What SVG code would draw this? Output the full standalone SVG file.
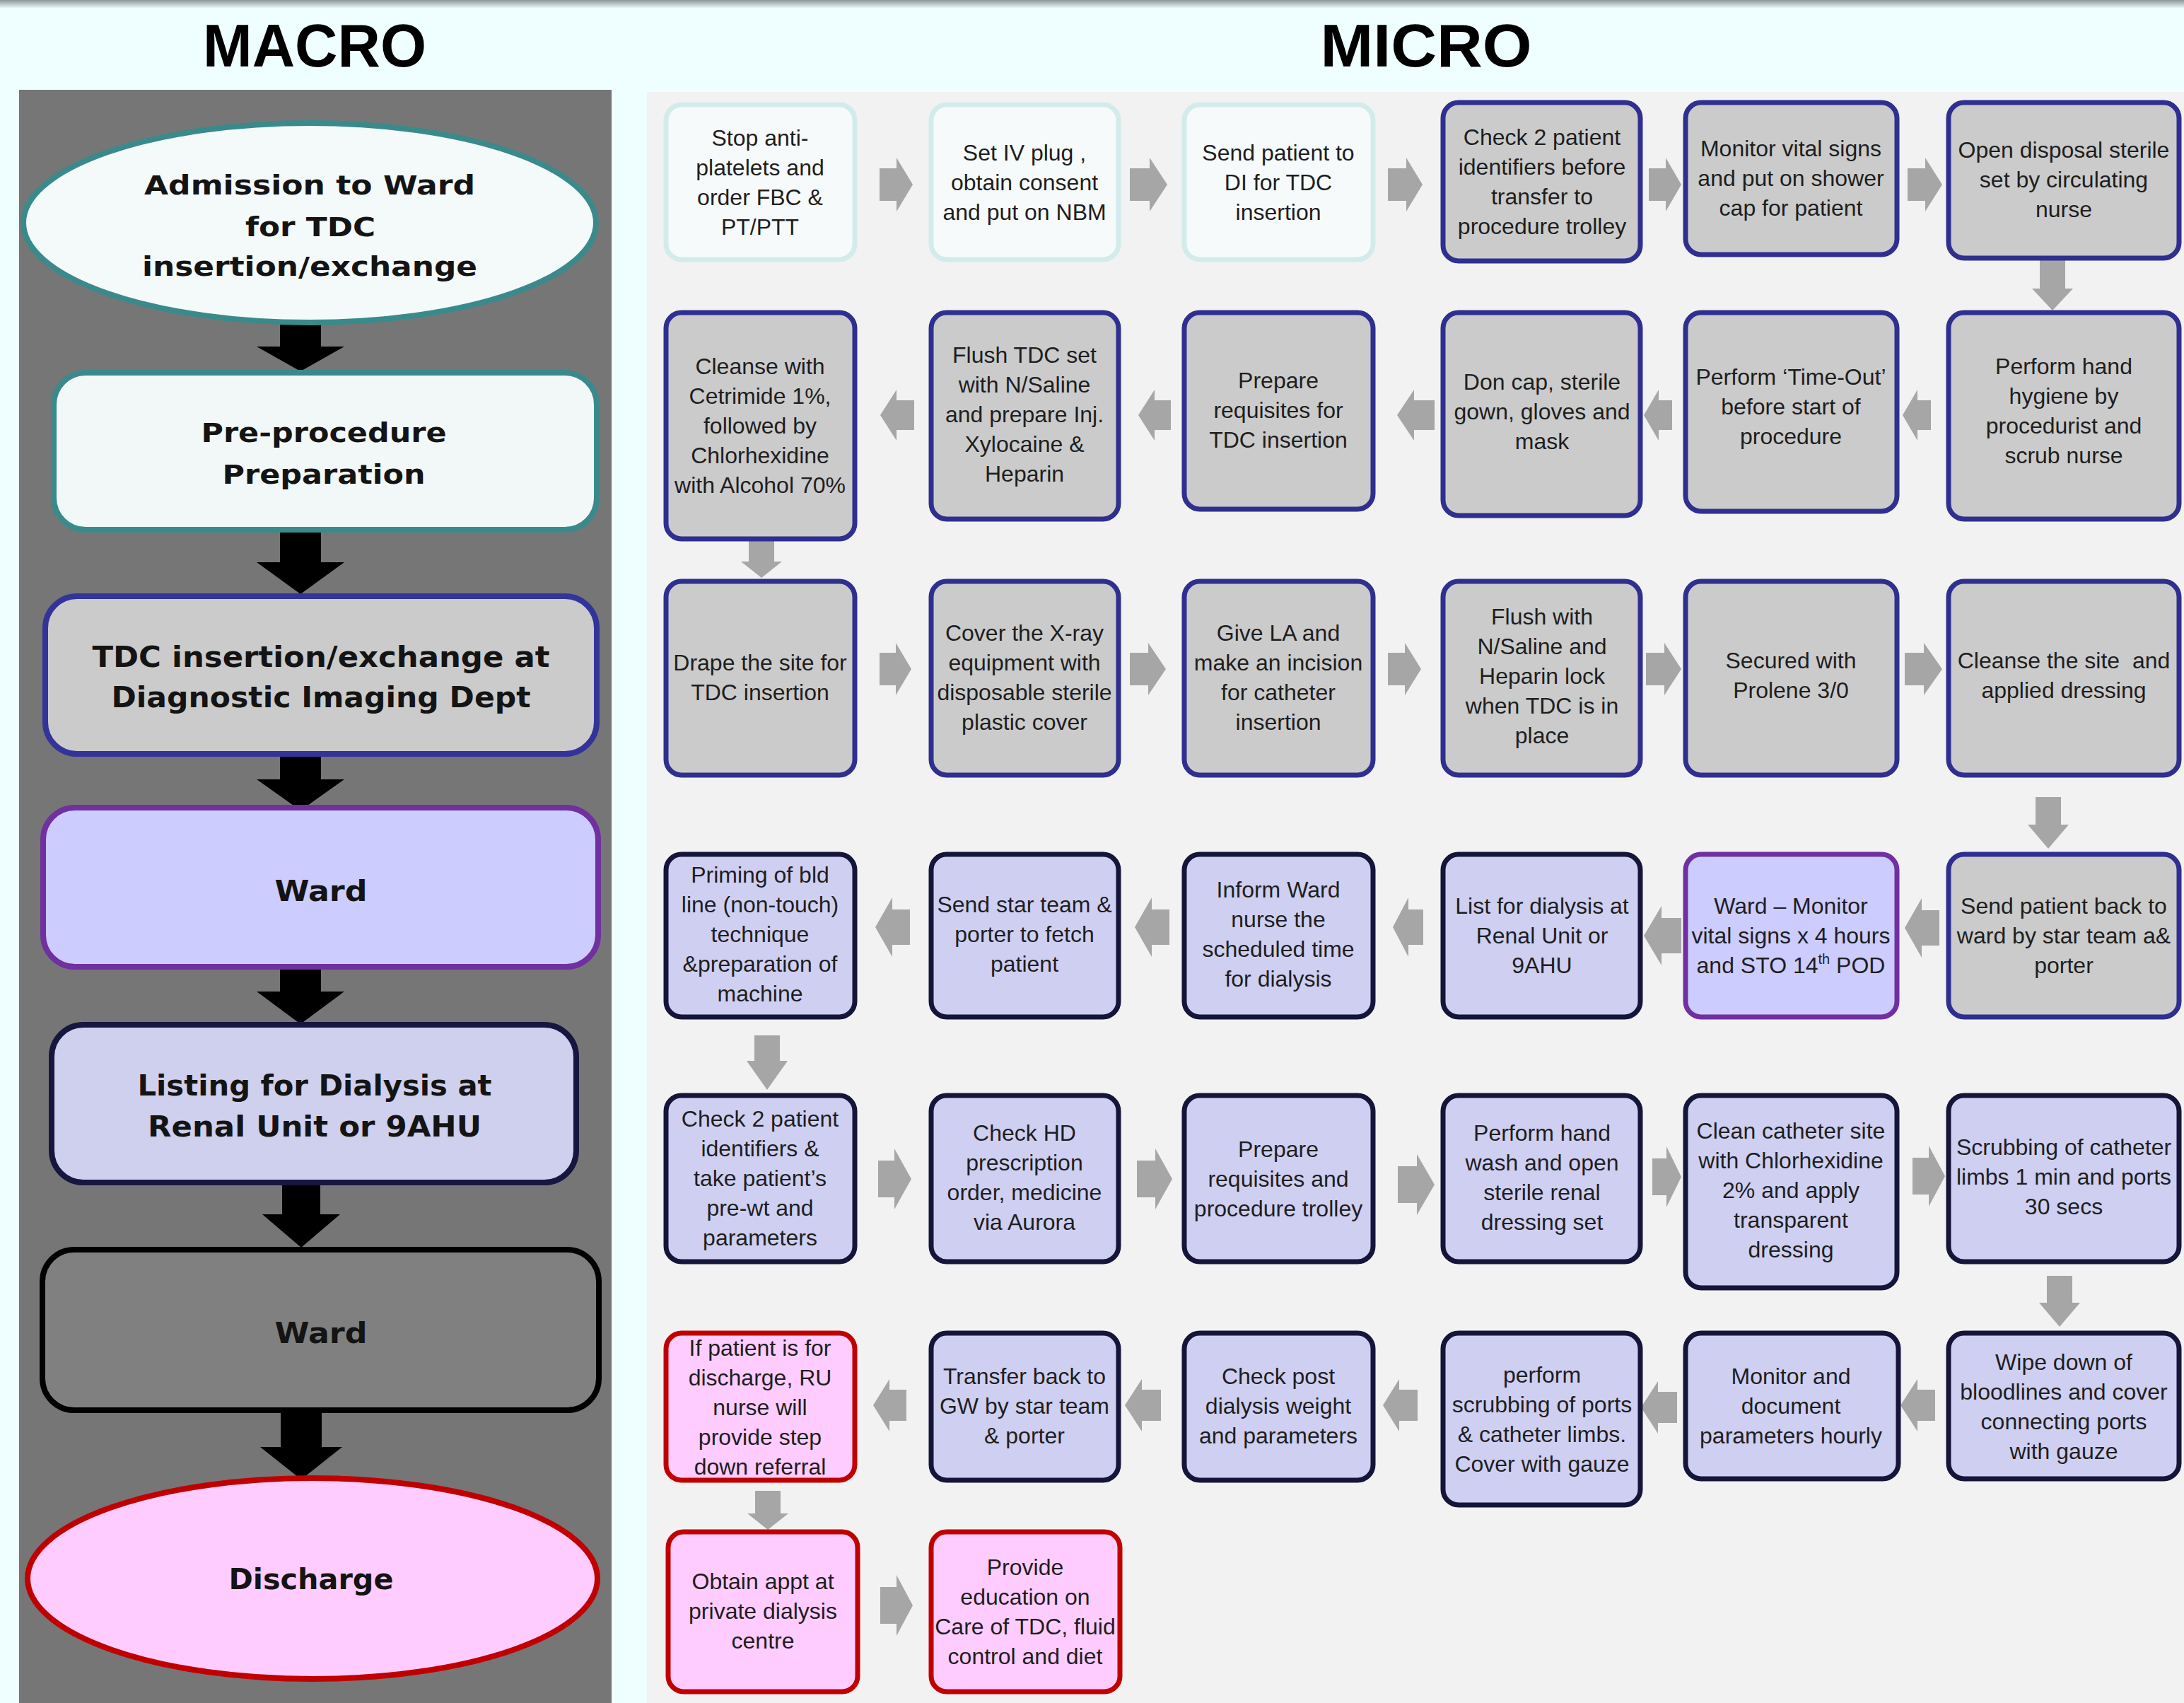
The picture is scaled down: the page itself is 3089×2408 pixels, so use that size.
<svg xmlns="http://www.w3.org/2000/svg" width="3089" height="2408" viewBox="0 0 3089 2408">
<defs>
<linearGradient id="topsh" x1="0" y1="0" x2="0" y2="1">
<stop offset="0" stop-color="#8c9696"/>
<stop offset="1" stop-color="#effefe"/>
</linearGradient>
<style>
.title{font-family:"Liberation Sans",Arial,sans-serif;font-weight:bold;font-size:86px;fill:#000;text-anchor:middle}
.Mt{font-family:"DejaVu Sans",Verdana,sans-serif;font-weight:bold;font-size:41px;fill:#141414;text-anchor:middle}
.Ms{font-size:37px}
.mt{font-family:"Liberation Sans",Arial,sans-serif;font-size:32px;fill:#1e1e1e;text-anchor:middle}
.arw{fill:#a6a6a6}
.blk{fill:#000}
.light{fill:#f6fafa;stroke:#d3ebeb;stroke-width:7}
.gray{fill:#cbcbcb;stroke:#2f2f8f;stroke-width:7}
.lav{fill:#cfcff2;stroke:#15153a;stroke-width:7}
.ward{fill:#ccccff;stroke:#7030a0;stroke-width:7}
.red{fill:#ffccff;stroke:#c00000;stroke-width:7}
</style>
</defs>
<rect x="0" y="0" width="3089" height="2408" fill="#effefe"/>
<rect x="0" y="0" width="3089" height="12" fill="url(#topsh)"/>
<rect x="27" y="127" width="838" height="2281" fill="#767676"/>
<rect x="915" y="130" width="2174" height="2278" fill="#f2f2f2"/>
<text class="title" x="445" y="94" textLength="316" lengthAdjust="spacingAndGlyphs">MACRO</text>
<text class="title" x="2017" y="94" textLength="299" lengthAdjust="spacingAndGlyphs">MICRO</text>

<g id="connectors">
<g id="macro-arrows" class="blk">
<polygon points="396,450 454,450 454,490 487,490 425,525 363,490 396,490"/>
<polygon points="396,750 454,750 454,795 487,795 425,840 363,795 396,795"/>
<polygon points="396,1066 454,1066 454,1102 487,1102 425,1146 363,1102 396,1102"/>
<polygon points="396,1366 454,1366 454,1402 487,1402 425,1448 363,1402 396,1402"/>
<polygon points="399,1672 453,1672 453,1717 481,1717 426,1764 371,1717 399,1717"/>
<polygon points="397,1993 455,1993 455,2046 484,2046 426,2092 368,2046 397,2046"/>
</g>
<g id="micro-arrows" class="arw">
<polygon points="1244,238 1268,238 1268,223 1291,261 1268,299 1268,284 1244,284"/>
<polygon points="1598,238 1626,238 1626,223 1651,261 1626,299 1626,284 1598,284"/>
<polygon points="1963,238 1989,238 1989,223 2012,261 1989,299 1989,284 1963,284"/>
<polygon points="2332,238 2356,238 2356,223 2378,261 2356,299 2356,284 2332,284"/>
<polygon points="2698,238 2723,238 2723,223 2747,261 2723,299 2723,284 2698,284"/>
<polygon points="2885,368 2921,368 2921,408 2932,408 2903,439 2874,408 2885,408"/>
<polygon points="1245,587 1268,551 1268,566 1293,566 1293,608 1268,608 1268,623"/>
<polygon points="1610,587 1633,551 1633,566 1656,566 1656,608 1633,608 1633,623"/>
<polygon points="1976,587 2000,551 2000,566 2029,566 2029,608 2000,608 2000,623"/>
<polygon points="2325,587 2346,551 2346,566 2365,566 2365,608 2346,608 2346,623"/>
<polygon points="2691,587 2712,551 2712,566 2731,566 2731,608 2712,608 2712,623"/>
<polygon points="1059,765 1095,765 1095,794 1106,794 1077,817 1048,794 1059,794"/>
<polygon points="1244,923 1267,923 1267,909 1289,946 1267,983 1267,969 1244,969"/>
<polygon points="1598,923 1624,923 1624,909 1649,946 1624,983 1624,969 1598,969"/>
<polygon points="1963,923 1987,923 1987,909 2010,946 1987,983 1987,969 1963,969"/>
<polygon points="2328,923 2354,923 2354,909 2378,946 2354,983 2354,969 2328,969"/>
<polygon points="2694,923 2721,923 2721,909 2747,946 2721,983 2721,969 2694,969"/>
<polygon points="2879,1127 2915,1127 2915,1166 2926,1166 2897,1200 2868,1166 2879,1166"/>
<polygon points="1238,1311 1262,1269 1262,1286 1287,1286 1287,1336 1262,1336 1262,1353"/>
<polygon points="1605,1311 1629,1269 1629,1286 1654,1286 1654,1336 1629,1336 1629,1353"/>
<polygon points="1970,1311 1992,1269 1992,1286 2013,1286 2013,1336 1992,1336 1992,1353"/>
<polygon points="2325,1323 2350,1281 2350,1298 2378,1298 2378,1348 2350,1348 2350,1365"/>
<polygon points="2694,1312 2718,1270 2718,1287 2743,1287 2743,1337 2718,1337 2718,1354"/>
<polygon points="1067,1464 1103,1464 1103,1500 1114,1500 1085,1541 1056,1500 1067,1500"/>
<polygon points="1242,1641 1265,1641 1265,1624 1289,1667 1265,1710 1265,1693 1242,1693"/>
<polygon points="1608,1641 1634,1641 1634,1624 1658,1667 1634,1710 1634,1693 1608,1693"/>
<polygon points="1977,1649 2004,1649 2004,1632 2029,1675 2004,1718 2004,1701 1977,1701"/>
<polygon points="2337,1638 2357,1638 2357,1621 2378,1664 2357,1707 2357,1690 2337,1690"/>
<polygon points="2705,1637 2728,1637 2728,1620 2751,1663 2728,1706 2728,1689 2705,1689"/>
<polygon points="2895,1804 2931,1804 2931,1842 2942,1842 2913,1876 2884,1842 2895,1842"/>
<polygon points="1235,1987 1258,1950 1258,1965 1282,1965 1282,2009 1258,2009 1258,2024"/>
<polygon points="1591,1987 1615,1950 1615,1965 1642,1965 1642,2009 1615,2009 1615,2024"/>
<polygon points="1956,1987 1979,1950 1979,1965 2005,1965 2005,2009 1979,2009 1979,2024"/>
<polygon points="2321,1990 2345,1953 2345,1968 2372,1968 2372,2012 2345,2012 2345,2027"/>
<polygon points="2688,1987 2712,1950 2712,1965 2737,1965 2737,2009 2712,2009 2712,2024"/>
<polygon points="1068,2108 1104,2108 1104,2140 1115,2140 1086,2163 1057,2140 1068,2140"/>
<polygon points="1245,2244 1268,2244 1268,2227 1291,2270 1268,2313 1268,2296 1245,2296"/>
</g>
</g>

<g id="macro-admission">
<ellipse cx="438" cy="315" rx="405" ry="141" fill="#f4f9f9" stroke="#3a8a8c" stroke-width="8"/>
<text class="Mt Ms" x="438" y="275" textLength="468" lengthAdjust="spacingAndGlyphs">Admission to Ward</text>
<text class="Mt Ms" x="439" y="334" textLength="184" lengthAdjust="spacingAndGlyphs">for TDC</text>
<text class="Mt Ms" x="438" y="390" textLength="474" lengthAdjust="spacingAndGlyphs">insertion/exchange</text>
</g>
<g id="macro-preprocedure">
<rect x="76" y="527" width="768" height="222" rx="45" fill="#f2f8f8" stroke="#3a8a8c" stroke-width="8"/>
<text class="Mt Ms" x="458" y="625" textLength="347" lengthAdjust="spacingAndGlyphs">Pre-procedure</text>
<text class="Mt Ms" x="458" y="684" textLength="287" lengthAdjust="spacingAndGlyphs">Preparation</text>
</g>
<g id="macro-tdc">
<rect x="64" y="843" width="780" height="223" rx="45" fill="#cbcbcb" stroke="#33339a" stroke-width="8"/>
<text class="Mt" x="454" y="943" textLength="647" lengthAdjust="spacingAndGlyphs">TDC insertion/exchange at</text>
<text class="Mt" x="454" y="1000" textLength="593" lengthAdjust="spacingAndGlyphs">Diagnostic Imaging Dept</text>
</g>
<g id="macro-ward1">
<rect x="61" y="1142" width="785" height="225" rx="45" fill="#ccccff" stroke="#7030a0" stroke-width="8"/>
<text class="Mt" x="454" y="1274" textLength="131" lengthAdjust="spacingAndGlyphs">Ward</text>
</g>
<g id="macro-listing">
<rect x="73" y="1449" width="742" height="223" rx="45" fill="#cfcfee" stroke="#16163e" stroke-width="8"/>
<text class="Mt" x="445" y="1549" textLength="501" lengthAdjust="spacingAndGlyphs">Listing for Dialysis at</text>
<text class="Mt" x="445" y="1607" textLength="472" lengthAdjust="spacingAndGlyphs">Renal Unit or 9AHU</text>
</g>
<g id="macro-ward2">
<rect x="60" y="1767" width="787" height="227" rx="45" fill="#808080" stroke="#000" stroke-width="8"/>
<text class="Mt" x="454" y="1899" textLength="131" lengthAdjust="spacingAndGlyphs">Ward</text>
</g>
<g id="macro-discharge">
<ellipse cx="442" cy="2232" rx="403" ry="142" fill="#ffccff" stroke="#c00000" stroke-width="8"/>
<text class="Mt" x="440" y="2247" textLength="233" lengthAdjust="spacingAndGlyphs">Discharge</text>
</g>

<g id="m1"><rect class="light" x="942" y="148" width="267" height="219" rx="22"/>
<text class="mt" x="1075" y="206">Stop anti-</text><text class="mt" x="1075" y="248">platelets and</text><text class="mt" x="1075" y="290">order FBC &amp;</text><text class="mt" x="1075" y="332">PT/PTT</text></g>
<g id="m2"><rect class="light" x="1317" y="148" width="265" height="219" rx="22"/>
<text class="mt" x="1449" y="227">Set IV plug ,</text><text class="mt" x="1449" y="269">obtain consent</text><text class="mt" x="1449" y="311">and put on NBM</text></g>
<g id="m3"><rect class="light" x="1675" y="148" width="267" height="219" rx="22"/>
<text class="mt" x="1808" y="227">Send patient to</text><text class="mt" x="1808" y="269">DI for TDC</text><text class="mt" x="1808" y="311">insertion</text></g>
<g id="m4"><rect class="gray" x="2041" y="145" width="279" height="224" rx="22"/>
<text class="mt" x="2181" y="205">Check 2 patient</text><text class="mt" x="2181" y="247">identifiers before</text><text class="mt" x="2181" y="289">transfer to</text><text class="mt" x="2181" y="331">procedure trolley</text></g>
<g id="m5"><rect class="gray" x="2384" y="145" width="299" height="215" rx="22"/>
<text class="mt" x="2533" y="221">Monitor vital signs</text><text class="mt" x="2533" y="263">and put on shower</text><text class="mt" x="2533" y="305">cap for patient</text></g>
<g id="m6"><rect class="gray" x="2756" y="145" width="326" height="220" rx="22"/>
<text class="mt" x="2919" y="223">Open disposal sterile</text><text class="mt" x="2919" y="265">set by circulating</text><text class="mt" x="2919" y="307">nurse</text></g>

<g id="m7"><rect class="gray" x="942" y="442" width="267" height="320" rx="22"/>
<text class="mt" x="1075" y="529">Cleanse with</text><text class="mt" x="1075" y="571">Cetrimide 1%,</text><text class="mt" x="1075" y="613">followed by</text><text class="mt" x="1075" y="655">Chlorhexidine</text><text class="mt" x="1075" y="697">with Alcohol 70%</text></g>
<g id="m8"><rect class="gray" x="1317" y="442" width="265" height="292" rx="22"/>
<text class="mt" x="1449" y="513">Flush TDC set</text><text class="mt" x="1449" y="555">with N/Saline</text><text class="mt" x="1449" y="597">and prepare Inj.</text><text class="mt" x="1449" y="639">Xylocaine &amp;</text><text class="mt" x="1449" y="681">Heparin</text></g>
<g id="m9"><rect class="gray" x="1675" y="442" width="267" height="278" rx="22"/>
<text class="mt" x="1808" y="549">Prepare</text><text class="mt" x="1808" y="591">requisites for</text><text class="mt" x="1808" y="633">TDC insertion</text></g>
<g id="m10"><rect class="gray" x="2041" y="442" width="279" height="287" rx="22"/>
<text class="mt" x="2181" y="551">Don cap, sterile</text><text class="mt" x="2181" y="593">gown, gloves and</text><text class="mt" x="2181" y="635">mask</text></g>
<g id="m11"><rect class="gray" x="2384" y="442" width="299" height="281" rx="22"/>
<text class="mt" x="2533" y="544">Perform ‘Time-Out’</text><text class="mt" x="2533" y="586">before start of</text><text class="mt" x="2533" y="628">procedure</text></g>
<g id="m12"><rect class="gray" x="2756" y="442" width="326" height="292" rx="22"/>
<text class="mt" x="2919" y="529">Perform hand</text><text class="mt" x="2919" y="571">hygiene by</text><text class="mt" x="2919" y="613">procedurist and</text><text class="mt" x="2919" y="655">scrub nurse</text></g>

<g id="m13"><rect class="gray" x="942" y="822" width="267" height="274" rx="22"/>
<text class="mt" x="1075" y="948">Drape the site for</text><text class="mt" x="1075" y="990">TDC insertion</text></g>
<g id="m14"><rect class="gray" x="1317" y="822" width="265" height="274" rx="22"/>
<text class="mt" x="1449" y="906">Cover the X-ray</text><text class="mt" x="1449" y="948">equipment with</text><text class="mt" x="1449" y="990">disposable sterile</text><text class="mt" x="1449" y="1032">plastic cover</text></g>
<g id="m15"><rect class="gray" x="1675" y="822" width="267" height="274" rx="22"/>
<text class="mt" x="1808" y="906">Give LA and</text><text class="mt" x="1808" y="948">make an incision</text><text class="mt" x="1808" y="990">for catheter</text><text class="mt" x="1808" y="1032">insertion</text></g>
<g id="m16"><rect class="gray" x="2041" y="822" width="279" height="274" rx="22"/>
<text class="mt" x="2181" y="883">Flush with</text><text class="mt" x="2181" y="925">N/Saline and</text><text class="mt" x="2181" y="967">Heparin lock</text><text class="mt" x="2181" y="1009">when TDC is in</text><text class="mt" x="2181" y="1051">place</text></g>
<g id="m17"><rect class="gray" x="2384" y="822" width="299" height="274" rx="22"/>
<text class="mt" x="2533" y="945">Secured with</text><text class="mt" x="2533" y="987">Prolene 3/0</text></g>
<g id="m18"><rect class="gray" x="2756" y="822" width="326" height="274" rx="22"/>
<text class="mt" x="2919" y="945" xml:space="preserve">Cleanse the site  and</text><text class="mt" x="2919" y="987">applied dressing</text></g>

<g id="m19"><rect class="lav" x="942" y="1208" width="267" height="230" rx="22"/>
<text class="mt" x="1075" y="1248">Priming of bld</text><text class="mt" x="1075" y="1290">line (non-touch)</text><text class="mt" x="1075" y="1332">technique</text><text class="mt" x="1075" y="1374">&amp;preparation of</text><text class="mt" x="1075" y="1416">machine</text></g>
<g id="m20"><rect class="lav" x="1317" y="1208" width="265" height="230" rx="22"/>
<text class="mt" x="1449" y="1290">Send star team &amp;</text><text class="mt" x="1449" y="1332">porter to fetch</text><text class="mt" x="1449" y="1374">patient</text></g>
<g id="m21"><rect class="lav" x="1675" y="1208" width="267" height="230" rx="22"/>
<text class="mt" x="1808" y="1269">Inform Ward</text><text class="mt" x="1808" y="1311">nurse the</text><text class="mt" x="1808" y="1353">scheduled time</text><text class="mt" x="1808" y="1395">for dialysis</text></g>
<g id="m22"><rect class="lav" x="2041" y="1208" width="279" height="230" rx="22"/>
<text class="mt" x="2181" y="1292">List for dialysis at</text><text class="mt" x="2181" y="1334">Renal Unit or</text><text class="mt" x="2181" y="1376">9AHU</text></g>
<g id="m23"><rect class="ward" x="2384" y="1208" width="299" height="230" rx="22"/>
<text class="mt" x="2533" y="1292">Ward – Monitor</text><text class="mt" x="2533" y="1334">vital signs x 4 hours</text><text class="mt" x="2533" y="1376">and STO 14<tspan font-size="20" dy="-13">th</tspan><tspan dy="13"> POD</tspan></text></g>
<g id="m24"><rect class="gray" x="2756" y="1208" width="326" height="230" rx="22"/>
<text class="mt" x="2919" y="1292">Send patient back to</text><text class="mt" x="2919" y="1334">ward by star team a&amp;</text><text class="mt" x="2919" y="1376">porter</text></g>

<g id="m25"><rect class="lav" x="942" y="1549" width="267" height="235" rx="22"/>
<text class="mt" x="1075" y="1593">Check 2 patient</text><text class="mt" x="1075" y="1635">identifiers &amp;</text><text class="mt" x="1075" y="1677">take patient’s</text><text class="mt" x="1075" y="1719">pre-wt and</text><text class="mt" x="1075" y="1761">parameters</text></g>
<g id="m26"><rect class="lav" x="1317" y="1549" width="265" height="235" rx="22"/>
<text class="mt" x="1449" y="1613">Check HD</text><text class="mt" x="1449" y="1655">prescription</text><text class="mt" x="1449" y="1697">order, medicine</text><text class="mt" x="1449" y="1739">via Aurora</text></g>
<g id="m27"><rect class="lav" x="1675" y="1549" width="267" height="235" rx="22"/>
<text class="mt" x="1808" y="1636">Prepare</text><text class="mt" x="1808" y="1678">requisites and</text><text class="mt" x="1808" y="1720">procedure trolley</text></g>
<g id="m28"><rect class="lav" x="2041" y="1549" width="279" height="235" rx="22"/>
<text class="mt" x="2181" y="1613">Perform hand</text><text class="mt" x="2181" y="1655">wash and open</text><text class="mt" x="2181" y="1697">sterile renal</text><text class="mt" x="2181" y="1739">dressing set</text></g>
<g id="m29"><rect class="lav" x="2384" y="1549" width="299" height="272" rx="22"/>
<text class="mt" x="2533" y="1610">Clean catheter site</text><text class="mt" x="2533" y="1652">with Chlorhexidine</text><text class="mt" x="2533" y="1694">2% and apply</text><text class="mt" x="2533" y="1736">transparent</text><text class="mt" x="2533" y="1778">dressing</text></g>
<g id="m30"><rect class="lav" x="2756" y="1549" width="326" height="235" rx="22"/>
<text class="mt" x="2919" y="1633">Scrubbing of catheter</text><text class="mt" x="2919" y="1675">limbs 1 min and ports</text><text class="mt" x="2919" y="1717">30 secs</text></g>

<g id="m31"><rect class="red" x="942" y="1885" width="267" height="208" rx="22"/>
<text class="mt" x="1075" y="1917">If patient is for</text><text class="mt" x="1075" y="1959">discharge, RU</text><text class="mt" x="1075" y="2001">nurse will</text><text class="mt" x="1075" y="2043">provide step</text><text class="mt" x="1075" y="2085">down referral</text></g>
<g id="m32"><rect class="lav" x="1317" y="1885" width="265" height="208" rx="22"/>
<text class="mt" x="1449" y="1957">Transfer back to</text><text class="mt" x="1449" y="1999">GW by star team</text><text class="mt" x="1449" y="2041">&amp; porter</text></g>
<g id="m33"><rect class="lav" x="1675" y="1885" width="267" height="208" rx="22"/>
<text class="mt" x="1808" y="1957">Check post</text><text class="mt" x="1808" y="1999">dialysis weight</text><text class="mt" x="1808" y="2041">and parameters</text></g>
<g id="m34"><rect class="lav" x="2041" y="1885" width="279" height="243" rx="22"/>
<text class="mt" x="2181" y="1955">perform</text><text class="mt" x="2181" y="1997">scrubbing of ports</text><text class="mt" x="2181" y="2039">&amp; catheter limbs.</text><text class="mt" x="2181" y="2081">Cover with gauze</text></g>
<g id="m35"><rect class="lav" x="2384" y="1885" width="301" height="206" rx="22"/>
<text class="mt" x="2533" y="1957">Monitor and</text><text class="mt" x="2533" y="1999">document</text><text class="mt" x="2533" y="2041">parameters hourly</text></g>
<g id="m36"><rect class="lav" x="2756" y="1885" width="326" height="206" rx="22"/>
<text class="mt" x="2919" y="1937">Wipe down of</text><text class="mt" x="2919" y="1979">bloodlines and cover</text><text class="mt" x="2919" y="2021">connecting ports</text><text class="mt" x="2919" y="2063">with gauze</text></g>

<g id="m37"><rect class="red" x="945" y="2166" width="268" height="226" rx="22"/>
<text class="mt" x="1079" y="2247">Obtain appt at</text><text class="mt" x="1079" y="2289">private dialysis</text><text class="mt" x="1079" y="2331">centre</text></g>
<g id="m38"><rect class="red" x="1317" y="2166" width="267" height="226" rx="22"/>
<text class="mt" x="1450" y="2227">Provide</text><text class="mt" x="1450" y="2269">education on</text><text class="mt" x="1450" y="2311">Care of TDC, fluid</text><text class="mt" x="1450" y="2353">control and diet</text></g>
</svg>
